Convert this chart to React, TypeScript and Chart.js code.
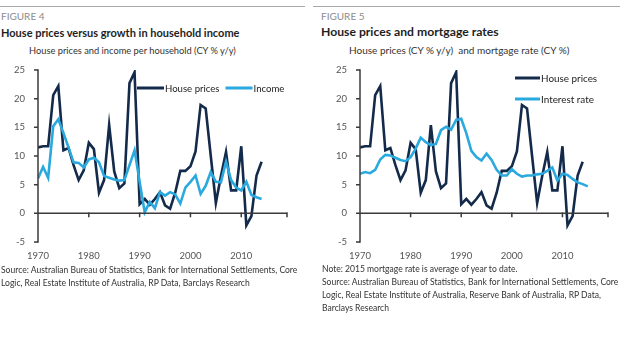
import React, { useEffect, useRef } from "react";
import { Chart, registerables } from "chart.js";
Chart.register(...registerables);

const YEARS = [
  1970, 1971, 1972, 1973, 1974, 1975, 1976, 1977, 1978, 1979,
  1980, 1981, 1982, 1983, 1984, 1985, 1986, 1987, 1988, 1989,
  1990, 1991, 1992, 1993, 1994, 1995, 1996, 1997, 1998, 1999,
  2000, 2001, 2002, 2003, 2004, 2005, 2006, 2007, 2008, 2009,
  2010, 2011, 2012, 2013, 2014, 2015,
];

const HOUSE_PRICES = [
  11.5, 11.7, 11.7, 20.6, 22.2, 11.0, 11.4, 8.4, 5.8, 7.5,
  12.3, 11.2, 3.6, 5.8, 15.4, 7.3, 4.4, 5.2, 22.7, 24.6,
  1.6, 2.5, 1.5, 2.5, 3.7, 1.4, 0.8, 3.6, 7.4, 7.4,
  8.2, 10.8, 18.9, 18.3, 10.0, 1.8, 6.5, 10.7, 4.0, 4.0,
  11.7, -2.1, -0.5, 6.6, 9.0,
];

const INCOME = [
  6.1, 8.1, 6.2, 15.2, 16.4, 14.0, 11.5, 8.9, 8.8, 8.0,
  9.4, 9.7, 8.9, 6.5, 6.2, 5.9, 5.7, 5.8, 8.4, 11.0,
  5.5, 0.2, 2.0, 0.9, 3.7, 3.1, 3.7, 3.3, 1.7, 4.5,
  5.5, 6.6, 3.4, 4.8, 7.2, 5.5, 5.4, 9.0, 5.8, 4.5,
  4.0, 5.5, 3.2, 2.8, 2.5,
];

const INTEREST_RATE = [
  6.9, 7.2, 7.0, 7.6, 9.4, 10.2, 10.1, 9.7, 9.3, 9.1,
  9.8, 11.3, 13.2, 12.4, 11.9, 12.1, 14.5, 15.1, 14.6, 16.3,
  16.5, 14.0, 10.9, 9.8, 9.2, 10.4, 9.3, 7.6, 6.6, 6.6,
  7.7, 6.9, 6.4, 6.6, 6.6, 6.8, 6.9, 7.4, 8.0, 5.7,
  6.9, 6.7, 6.0, 5.4, 5.1, 4.7,
];

const X_MIN = 1970;
const X_MAX = 2019;
const X_STEP = 10;
const Y_MIN = -5;
const Y_MAX = 25;
const Y_STEP = 5;

const DARK = "#142a4a";
const LIGHT = "#2aa9de";
const AXIS = "#3a3a3a";
const TICK_TEXT = "#555555";
const FONT = "Lato, 'Open Sans', sans-serif";

const pts = (vals: number[]) => vals.map((v, i) => ({ x: YEARS[i], y: v }));

const axesPlugin = {
  id: "customAxes",
  afterDraw(chart: any) {
    const ctx = chart.ctx;
    const x = chart.scales.x;
    const y = chart.scales.y;
    const left = x.getPixelForValue(X_MIN);
    const right = x.getPixelForValue(X_MAX);
    const top = y.getPixelForValue(Y_MAX);
    const bottom = y.getPixelForValue(Y_MIN);
    const y0 = y.getPixelForValue(0);
    ctx.save();
    ctx.strokeStyle = AXIS;
    ctx.lineWidth = 1.5;
    ctx.lineCap = "butt";
    // vertical axis
    ctx.beginPath();
    ctx.moveTo(left, top - 0.75);
    ctx.lineTo(left, bottom + 0.75);
    ctx.stroke();
    // y tick marks and labels (from the scale's own ticks)
    ctx.beginPath();
    ctx.fillStyle = TICK_TEXT;
    ctx.font = `9.5px ${FONT}`;
    ctx.textAlign = "right";
    ctx.textBaseline = "middle";
    for (const t of y.ticks) {
      const py = y.getPixelForValue(t.value);
      ctx.moveTo(left - 4, py);
      ctx.lineTo(left, py);
      ctx.fillText(String(t.value), left - 13, py);
    }
    ctx.stroke();
    // zero line with year ticks
    ctx.beginPath();
    ctx.moveTo(left, y0);
    ctx.lineTo(right, y0);
    for (const t of x.ticks) {
      if (t.value === X_MIN) continue;
      const px = x.getPixelForValue(t.value);
      ctx.moveTo(px, y0 - 1);
      ctx.lineTo(px, y0 + 4);
    }
    ctx.stroke();
    ctx.restore();
  },
};

const customLegendPlugin = {
  id: "customLegend",
  afterDraw(chart: any, _args: any, opts: any) {
    const { ctx } = chart;
    const sw = opts.sampleWidth;
    ctx.save();
    ctx.font = `${opts.fontSize}px ${FONT}`;
    ctx.textBaseline = "middle";
    ctx.fillStyle = "#222";
    let x = opts.x;
    let y = opts.y;
    chart.data.datasets.forEach((ds: any) => {
      ctx.strokeStyle = ds.borderColor;
      ctx.lineWidth = 3;
      ctx.beginPath();
      ctx.moveTo(x, y);
      ctx.lineTo(x + sw, y);
      ctx.stroke();
      ctx.fillText(ds.label, x + sw + 1, y + 0.5);
      const w = ctx.measureText(ds.label).width;
      if (opts.vertical) {
        y += opts.rowGap;
      } else {
        x += sw + 1 + w + opts.itemGap;
      }
    });
    ctx.restore();
  },
};

function LineChart(props: {
  datasets: any[];
  legend: any;
  width: number;
  paddingRight: number;
}) {
  const ref = useRef<HTMLCanvasElement | null>(null);
  useEffect(() => {
    if (!ref.current) return;
    const chart = new Chart(ref.current, {
      type: "line",
      data: { datasets: props.datasets },
      plugins: [axesPlugin, customLegendPlugin],
      options: {
        animation: false,
        responsive: false,
        maintainAspectRatio: false,
        layout: { padding: { top: 10, right: props.paddingRight, bottom: 0, left: 30 } },
        elements: { point: { radius: 0 }, line: { tension: 0, borderWidth: 2.6 } },
        plugins: {
          legend: { display: false },
          tooltip: { enabled: false },
          customLegend: props.legend,
        } as any,
        scales: {
          x: {
            type: "linear",
            min: X_MIN,
            max: X_MAX,
            afterFit: (s: any) => {
              s.height = 23;
            },
            grid: { display: false },
            border: { display: false },
            ticks: {
              stepSize: X_STEP,
              padding: 0,
              color: TICK_TEXT,
              font: { family: FONT, size: 9.5 },
              maxRotation: 0,
              callback: (v: any) => (Number(v) % 10 === 0 ? String(v) : ""),
            },
          },
          y: {
            min: Y_MIN,
            max: Y_MAX,
            grid: { display: false },
            border: { display: false },
            ticks: { stepSize: Y_STEP, display: false },
          },
        },
      } as any,
    });
    return () => chart.destroy();
  }, []);
  return <canvas ref={ref} width={props.width} height={205} style={{ display: "block" }} />;
}

const abs = (left: number, top: number, extra: any = {}) => ({
  position: "absolute" as const,
  left,
  top,
  whiteSpace: "nowrap" as const,
  fontFamily: FONT,
  ...extra,
});

const FOOT_LEFT = [
  "Source: Australian Bureau of Statistics, Bank for International Settlements, Core",
  "Logic, Real Estate Institute of Australia, RP Data, Barclays Research",
];
const FOOT_RIGHT = [
  "Note: 2015 mortgage rate is average of year to date.",
  "Source: Australian Bureau of Statistics, Bank for International Settlements, Core",
  "Logic, Real Estate Institute of Australia, Reserve Bank of Australia, RP Data,",
  "Barclays Research",
];

export default function App() {
  const leftSets = [
    { label: "House prices", data: pts(HOUSE_PRICES), borderColor: DARK, backgroundColor: DARK, order: 1 },
    { label: "Income", data: pts(INCOME), borderColor: LIGHT, backgroundColor: LIGHT, order: 0 },
  ];
  const rightSets = [
    { label: "House prices", data: pts(HOUSE_PRICES), borderColor: DARK, backgroundColor: DARK, order: 1 },
    { label: "Interest rate", data: pts(INTEREST_RATE), borderColor: LIGHT, backgroundColor: LIGHT, order: 0 },
  ];
  const figLabel = { fontSize: 10, lineHeight: "10px", color: "#8c8c8c" };
  const titleL = { fontSize: 11, lineHeight: "11px", color: "#1e1e1e", fontWeight: 700 };
  const titleR = { fontSize: 12.2, lineHeight: "12px", color: "#1e1e1e", fontWeight: 700 };
  const subL = { fontSize: 9.3, lineHeight: "9px", color: "#333" };
  const subR = { fontSize: 10, lineHeight: "10px", color: "#333" };
  const foot = { fontSize: 8.55, lineHeight: "13px", color: "#333" };
  return (
    <div style={{ position: "fixed", left: 0, top: 0, width: 620, height: 349, background: "#fff", overflow: "hidden" }}>
      <div style={{ position: "absolute", left: 0, top: 6, width: 305, height: 1, background: "#a8a8a8" }} />
      <div style={{ position: "absolute", left: 313, top: 6, width: 307, height: 1, background: "#a8a8a8" }} />

      <div style={abs(1, 11, figLabel)}>FIGURE 4</div>
      <div style={abs(1, 26.5, titleL)}>House prices versus growth in household income</div>
      <div style={abs(29, 45.5, subL)}>House prices and income per household (CY % y/y)</div>

      <div style={abs(321, 11, figLabel)}>FIGURE 5</div>
      <div style={abs(321, 26, titleR)}>House prices and mortgage rates</div>
      <div style={abs(349, 45, subR)}>House prices (CY % y/y)&nbsp; and mortgage rate (CY %)</div>

      <div style={{ position: "absolute", left: 0, top: 60 }}>
        <LineChart
          datasets={leftSets}
          width={305}
          paddingRight={18}
          legend={{ x: 137, y: 28, sampleWidth: 27, itemGap: 6, vertical: false, fontSize: 9.6 }}
        />
      </div>
      <div style={{ position: "absolute", left: 322, top: 60 }}>
        <LineChart
          datasets={rightSets}
          width={298}
          paddingRight={12}
          legend={{ x: 193, y: 18, sampleWidth: 25, rowGap: 21, vertical: true, fontSize: 9.9 }}
        />
      </div>

      {FOOT_LEFT.map((t, i) => (
        <div key={"l" + i} style={abs(1, 263.5 + i * 13, foot)}>{t}</div>
      ))}
      {FOOT_RIGHT.map((t, i) => (
        <div key={"r" + i} style={abs(322, 262.5 + i * 13, foot)}>{t}</div>
      ))}
    </div>
  );
}
